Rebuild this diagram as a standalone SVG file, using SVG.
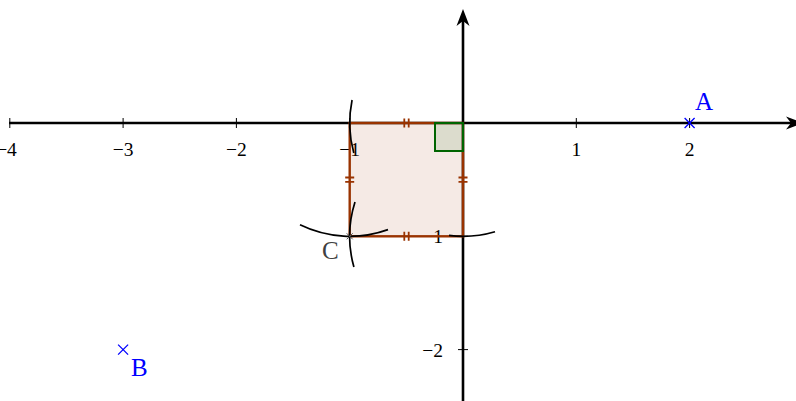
<svg xmlns="http://www.w3.org/2000/svg" width="796" height="401" viewBox="0 0 796 401">
<style>
.ax{stroke:#000;stroke-width:2.6;fill:none}
.tk{stroke:#000;stroke-width:1;fill:none}
.tl{font-family:"Liberation Serif",serif;font-size:19.5px;fill:#000}
.pt{font-family:"Liberation Serif",serif;font-size:25px}
.arc{stroke:#000;stroke-width:1.7;fill:none}
.hm{stroke:#993300;stroke-width:1.8;fill:none}
.cr{stroke:#0000ff;stroke-width:1.3;fill:none}
</style>
<rect width="796" height="401" fill="#fff"/>
<g id="connectors">
<g id="x-axis">
<line class="ax" x1="9" y1="123" x2="792" y2="123"/>
<path d="M803 123 L786 116.5 L791 123 L786 129.5 Z" fill="#000"/>
</g>
<g id="y-axis">
<line class="ax" x1="463" y1="401" x2="463" y2="20"/>
<path d="M463 9 L456.5 26 L463 21 L469.5 26 Z" fill="#000"/>
</g>
</g>
<g id="ticks">
<line class="tk" x1="9.8" y1="118" x2="9.8" y2="128"/>
<line class="tk" x1="123.1" y1="118" x2="123.1" y2="128"/>
<line class="tk" x1="236.4" y1="118" x2="236.4" y2="128"/>
<line class="tk" x1="349.7" y1="118" x2="349.7" y2="128"/>
<line class="tk" x1="576.3" y1="118" x2="576.3" y2="128"/>
<line class="tk" x1="689.6" y1="118" x2="689.6" y2="128"/>
<line class="tk" x1="458" y1="236.3" x2="468" y2="236.3"/>
<line class="tk" x1="458" y1="349.6" x2="468" y2="349.6"/>
</g>
<g id="tick-labels">
<text class="tl" x="6.5" y="156" text-anchor="middle">−4</text>
<text class="tl" x="123.1" y="156" text-anchor="middle">−3</text>
<text class="tl" x="236.4" y="156" text-anchor="middle">−2</text>
<text class="tl" x="349.7" y="156" text-anchor="middle">−1</text>
<text class="tl" x="576.3" y="156" text-anchor="middle">1</text>
<text class="tl" x="689.6" y="156" text-anchor="middle">2</text>
<text class="tl" x="443" y="243" text-anchor="end">−1</text>
<text class="tl" x="443" y="357" text-anchor="end">−2</text>
</g>
<g id="square">
<rect x="349.7" y="123" width="113.3" height="113.3" fill="#993300" fill-opacity="0.1" stroke="#993300" stroke-width="2.4"/>
<rect x="435" y="123" width="28" height="28" fill="#006400" fill-opacity="0.1" stroke="#006400" stroke-width="2"/>
<path class="hm" d="M404.3 118.5 V127.5 M408.7 118.5 V127.5 M404.3 231.8 V240.8 M408.7 231.8 V240.8 M345.2 177.5 H354.2 M345.2 181.9 H354.2 M458.5 177.5 H467.5 M458.5 181.9 H467.5"/>
</g>
<g id="construction-arcs">
<path class="arc" d="M352.06 100 A113.3 113.3 0 0 0 353.8 153"/>
<path class="arc" d="M449 235.43 A113.3 113.3 0 0 0 495 231.7"/>
<path class="arc" d="M300 224.8 A113.3 113.3 0 0 0 388 229.6"/>
<path class="arc" d="M355 202 A113.3 113.3 0 0 0 353.9 267"/>
</g>
<g id="point-A">
<path class="cr" d="M684.6 118 L694.6 128 M684.6 128 L694.6 118"/>
<text class="pt" x="695" y="110" fill="#0000ff">A</text>
</g>
<g id="point-B">
<path class="cr" d="M118.1 344.6 L128.1 354.6 M118.1 354.6 L128.1 344.6"/>
<text class="pt" x="131" y="376" fill="#0000ff">B</text>
</g>
<g id="point-C">
<path d="M346.7 233.3 L352.7 239.3 M346.7 239.3 L352.7 233.3" stroke="#555" stroke-width="1" fill="none"/>
<text class="pt" x="322" y="259" fill="#404040">C</text>
</g>
</svg>
